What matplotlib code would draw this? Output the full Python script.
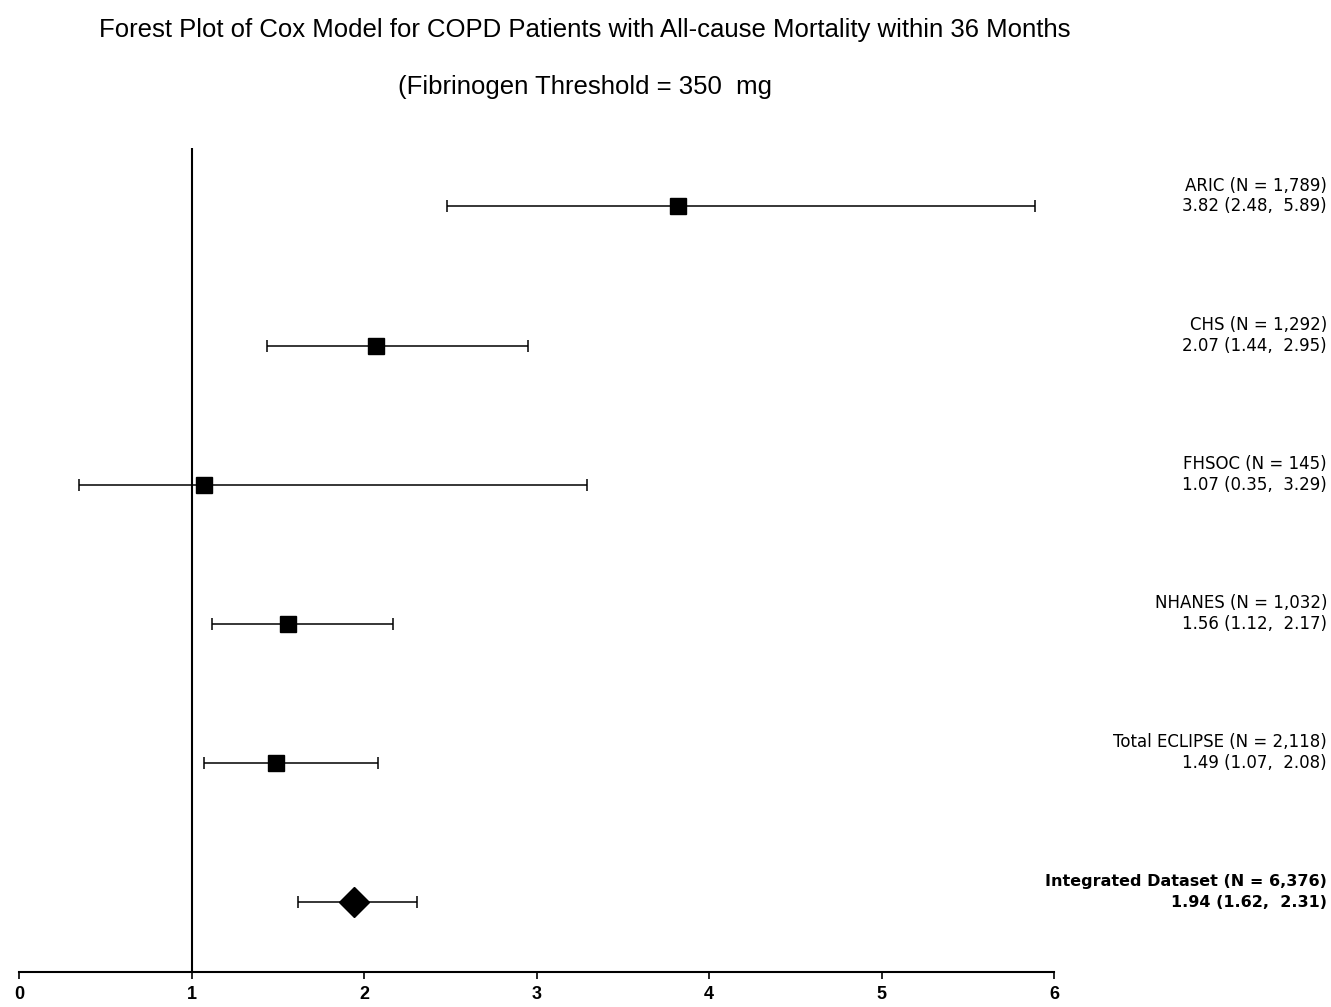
import matplotlib.pyplot as plt

# study rows, top to bottom
studies = ["ARIC (N = 1,789)", "CHS (N = 1,292)", "FHSOC (N = 145)",
           "NHANES (N = 1,032)", "Total ECLIPSE (N = 2,118)",
           "Integrated Dataset (N = 6,376)"]
hr = [3.82, 2.07, 1.07, 1.56, 1.49, 1.94]
lower = [2.48, 1.44, 0.35, 1.12, 1.07, 1.62]
upper = [5.89, 2.95, 3.29, 2.17, 2.08, 2.31]
xticks = [0, 1, 2, 3, 4, 5, 6]

plt.rcParams['font.family'] = ['Liberation Sans', 'DejaVu Sans']

fig = plt.figure(figsize=(13.31, 10.07), dpi=100)
ax = fig.add_axes([19 / 1331, 1 - 972 / 1007, 1035 / 1331, (972 - 148) / 1007])

n = len(studies)
ypos = list(range(n, 0, -1))
tr = ax.get_yaxis_transform()

for i in range(n):
    y = ypos[i]
    ax.errorbar(hr[i], y, xerr=[[hr[i] - lower[i]], [upper[i] - hr[i]]],
                fmt='none', ecolor='black', elinewidth=1.1, capsize=4,
                capthick=1.1, zorder=2)
    last = i == n - 1
    ax.plot(hr[i], y, marker='D' if last else 's', color='black',
            markersize=15 if last else 11.5, linestyle='none', zorder=3)
    weight = 'bold' if last else 'normal'
    fs = 11.5 if last else 12
    ax.text(1.2638, y + 0.15, studies[i], transform=tr, ha='right',
            va='center', fontsize=fs, fontweight=weight, family='DejaVu Sans',
            clip_on=False)
    ax.text(1.2638, y, f"{hr[i]:.2f} ({lower[i]:.2f},  {upper[i]:.2f})",
            transform=tr, ha='right', va='center', fontsize=fs,
            fontweight=weight, family='DejaVu Sans', clip_on=False)

ax.axvline(1, color='black', linewidth=1.5, zorder=1)

ax.set_xlim(0, 6)
ax.set_ylim(0.497, 6.42)
ax.set_xticks(xticks)
ax.set_xticklabels([str(t) for t in xticks], fontweight='bold', fontsize=13)
ax.set_yticks([])
for s in ['top', 'right', 'left']:
    ax.spines[s].set_visible(False)
ax.spines['bottom'].set_linewidth(1.5)
ax.tick_params(axis='x', direction='out', length=5, width=1.2, pad=5)

fig.text(585 / 1331, 1 - 30 / 1007, "Forest Plot of Cox Model for COPD Patients with All-cause Mortality within 36 Months",
         ha='center', va='center', fontsize=18.5)
fig.text(585 / 1331, 1 - 87 / 1007, "(Fibrinogen Threshold = 350  mg",
         ha='center', va='center', fontsize=18.5)

fig.savefig("out.png", dpi=100)
